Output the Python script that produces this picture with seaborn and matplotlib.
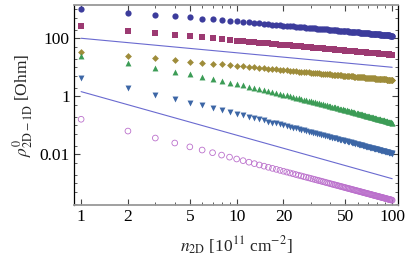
import numpy as np
import matplotlib
matplotlib.use("Agg")
import matplotlib.pyplot as plt
import seaborn as sns
from matplotlib.ticker import FixedLocator, NullFormatter

# density n_2D in units of 1e11 cm^-2
n2d = np.arange(1, 101)

# rho values (Ohm), one list per marker series
rho_circle = [
    1020, 771, 649, 573, 520, 479, 447, 421, 399, 380,
    364, 350, 337, 327, 316, 307, 298, 290, 282, 275,
    269, 263, 257, 252, 247, 242, 238, 233, 230, 225,
    222, 218, 215, 212, 209, 206, 204, 201, 198, 196,
    194, 191, 189, 187, 185, 183, 181, 179, 177, 175,
    173, 172, 170, 169, 167, 166, 164, 163, 161, 160,
    159, 157, 156, 155, 153, 152, 151, 150, 149, 147,
    146, 145, 144, 143, 143, 142, 141, 140, 139, 138,
    137, 136, 135, 134, 134, 133, 132, 131, 130, 130,
    129, 128, 127, 127, 126, 125, 124, 124, 123, 123]

rho_square = [
    257, 183, 150, 130, 117, 107, 99.0, 92.8, 87.6, 83.2,
    79.4, 76.1, 73.1, 70.6, 68.2, 66.1, 64.1, 62.4, 60.7, 59.2,
    57.8, 56.5, 55.3, 54.2, 53.1, 52.1, 51.1, 50.2, 49.4, 48.5,
    47.8, 47.0, 46.3, 45.7, 45.0, 44.4, 43.8, 43.2, 42.7, 42.2,
    41.7, 41.2, 40.7, 40.3, 39.8, 39.4, 39.0, 38.6, 38.2, 37.8,
    37.4, 37.1, 36.7, 36.4, 36.1, 35.8, 35.4, 35.2, 34.8, 34.6,
    34.3, 34.0, 33.7, 33.5, 33.2, 33.0, 32.7, 32.5, 32.3, 32.0,
    31.8, 31.6, 31.4, 31.2, 31.0, 30.8, 30.6, 30.4, 30.2, 30.0,
    29.9, 29.7, 29.5, 29.3, 29.2, 29.0, 28.8, 28.7, 28.5, 28.4,
    28.2, 28.0, 27.9, 27.8, 27.6, 27.5, 27.3, 27.2, 27.0, 26.9]

rho_diamond = [
    34.7, 24.7, 20.2, 17.5, 15.8, 14.4, 13.4, 12.5, 11.8, 11.2,
    10.7, 10.3, 9.86, 9.52, 9.20, 8.92, 8.65, 8.42, 8.19, 7.99,
    7.80, 7.62, 7.46, 7.31, 7.16, 7.03, 6.89, 6.77, 6.66, 6.54,
    6.45, 6.34, 6.25, 6.16, 6.07, 5.99, 5.91, 5.83, 5.76, 5.69,
    5.63, 5.56, 5.49, 5.44, 5.37, 5.32, 5.26, 5.21, 5.15, 5.10,
    5.05, 5.00, 4.95, 4.91, 4.87, 4.83, 4.78, 4.75, 4.69, 4.67,
    4.63, 4.59, 4.55, 4.52, 4.48, 4.45, 4.41, 4.38, 4.36, 4.32,
    4.29, 4.26, 4.24, 4.21, 4.18, 4.15, 4.13, 4.10, 4.07, 4.05,
    4.03, 4.01, 3.98, 3.95, 3.94, 3.91, 3.89, 3.87, 3.84, 3.83,
    3.80, 3.78, 3.76, 3.75, 3.72, 3.71, 3.68, 3.67, 3.64, 3.63]

rho_triangle = [
    25.1, 13.9, 9.47, 7.11, 5.65, 4.65, 3.93, 3.39, 2.97, 2.63,
    2.36, 2.13, 1.93, 1.77, 1.63, 1.50, 1.40, 1.30, 1.21, 1.14,
    1.07, 1.01, 0.953, 0.903, 0.856, 0.814, 0.775, 0.739, 0.707, 0.675,
    0.647, 0.620, 0.593, 0.572, 0.549, 0.529, 0.510, 0.491, 0.474, 0.458,
    0.443, 0.429, 0.416, 0.403, 0.390, 0.378, 0.367, 0.357, 0.346, 0.337,
    0.327, 0.319, 0.311, 0.302, 0.295, 0.287, 0.280, 0.273, 0.266, 0.260,
    0.254, 0.248, 0.243, 0.237, 0.232, 0.227, 0.222, 0.217, 0.213, 0.209,
    0.204, 0.200, 0.196, 0.192, 0.189, 0.185, 0.182, 0.178, 0.174, 0.171,
    0.169, 0.165, 0.162, 0.160, 0.157, 0.154, 0.151, 0.149, 0.147, 0.144,
    0.142, 0.139, 0.137, 0.135, 0.133, 0.131, 0.129, 0.127, 0.125, 0.123]

rho_down = [
    4.27, 1.88, 1.15, 0.806, 0.610, 0.484, 0.398, 0.335, 0.288, 0.251,
    0.222, 0.198, 0.178, 0.162, 0.148, 0.135, 0.125, 0.116, 0.108, 0.101,
    0.0942, 0.0886, 0.0832, 0.0787, 0.0744, 0.0705, 0.0671, 0.0638, 0.0609, 0.0581,
    0.0556, 0.0532, 0.0509, 0.0490, 0.0470, 0.0452, 0.0436, 0.0419, 0.0405, 0.0391,
    0.0377, 0.0365, 0.0354, 0.0343, 0.0332, 0.0322, 0.0313, 0.0303, 0.0295, 0.0287,
    0.0278, 0.0271, 0.0264, 0.0258, 0.0251, 0.0245, 0.0238, 0.0233, 0.0227, 0.0222,
    0.0217, 0.0212, 0.0207, 0.0203, 0.0198, 0.0194, 0.0190, 0.0186, 0.0182, 0.0178,
    0.0175, 0.0172, 0.0168, 0.0165, 0.0162, 0.0159, 0.0156, 0.0153, 0.0150, 0.0148,
    0.0145, 0.0142, 0.0140, 0.0138, 0.0135, 0.0133, 0.0131, 0.0129, 0.0127, 0.0125,
    0.0123, 0.0121, 0.0119, 0.0117, 0.0115, 0.0114, 0.0112, 0.0110, 0.0109, 0.0107]

rho_open = [
    0.162, 0.0635, 0.0365, 0.0246, 0.0181, 0.0141, 0.0114, 0.00944, 0.00802, 0.00692,
    0.00607, 0.00537, 0.00479, 0.00432, 0.00392, 0.00358, 0.00329, 0.00304, 0.00281, 0.00262,
    0.00245, 0.00229, 0.00215, 0.00202, 0.00191, 0.00181, 0.00171, 0.00163, 0.00155, 0.00148,
    0.00141, 0.00135, 0.00129, 0.00124, 0.00119, 0.00114, 0.00110, 0.00105, 0.00102, 0.000980,
    0.000945, 0.000915, 0.000885, 0.000856, 0.000829, 0.000802, 0.000779, 0.000756, 0.000734, 0.000712,
    0.000692, 0.000674, 0.000656, 0.000639, 0.000622, 0.000606, 0.000590, 0.000577, 0.000562, 0.000549,
    0.000536, 0.000524, 0.000512, 0.000500, 0.000489, 0.000478, 0.000468, 0.000458, 0.000449, 0.000440,
    0.000431, 0.000423, 0.000414, 0.000406, 0.000398, 0.000390, 0.000384, 0.000376, 0.000369, 0.000363,
    0.000357, 0.000350, 0.000344, 0.000339, 0.000333, 0.000328, 0.000321, 0.000317, 0.000312, 0.000306,
    0.000301, 0.000296, 0.000292, 0.000288, 0.000283, 0.000279, 0.000275, 0.000271, 0.000267, 0.000263]

# two straight guide lines (end points)
guide_x = [1, 100]
guide_half = [100, 10]
guide_threehalf = [1.45, 0.00145]

sns.set_style("ticks")
plt.rcParams["font.family"] = ["Liberation Serif", "DejaVu Serif"]
plt.rcParams["mathtext.fontset"] = "stix"
plt.rcParams["font.size"] = 12.5

fig = plt.figure(figsize=(4.07, 2.61), dpi=100)
ax = fig.add_axes([74 / 407, 56 / 261, 324 / 407, 200 / 261])
ax.set_xscale("log")
ax.set_yscale("log")

# guide lines
line_col = "#6a6ad0"
sns.lineplot(x=guide_x, y=guide_half, color=line_col, lw=0.8, ax=ax)
sns.lineplot(x=guide_x, y=guide_threehalf, color=line_col, lw=0.8, ax=ax)

# marker series
series = [
    (rho_circle, "o", "#3c3c9c", 20),
    (rho_square, "s", "#9c3a72", 16),
    (rho_diamond, "D", "#9e8c3a", 12),
    (rho_triangle, "^", "#3c9c56", 18),
    (rho_down, "v", "#3c66a6", 18),
]
for vals, mk, col, size in series:
    sns.scatterplot(x=n2d, y=vals, marker=mk, color=col, s=size,
                    linewidth=0, ax=ax, zorder=3)

# open circles
ax.scatter(n2d, rho_open, marker="o", s=17, facecolors="none",
           edgecolors="#bb70cc", linewidths=0.6, zorder=3)

ax.set_xlim(0.90, 109)
ax.set_ylim(1.8e-4, 1400)

# ticks
ax.xaxis.set_major_locator(FixedLocator([1, 2, 5, 10, 20, 50, 100]))
ax.set_xticklabels(["1", "2", "5", "10", "20", "50", "100"])
ax.xaxis.set_minor_locator(FixedLocator([3, 4, 6, 7, 8, 9, 30, 40, 60, 70, 80, 90]))
ax.xaxis.set_minor_formatter(NullFormatter())

ax.yaxis.set_major_locator(FixedLocator([1e-2, 1, 1e2]))
ax.set_yticklabels(["0.01", "1", "100"])
ymin = []
for k in range(-4, 4):
    for s in [1, 2, 5]:
        v = s * 10.0 ** k
        if not (s == 1 and k % 2 == 0):
            ymin.append(v)
ax.yaxis.set_minor_locator(FixedLocator(ymin))
ax.yaxis.set_minor_formatter(NullFormatter())

ax.tick_params(which="both", direction="in", top=True, right=True,
               colors="#444444", labelcolor="black", pad=3)
ax.tick_params(which="major", length=4, width=0.8)
ax.tick_params(which="minor", length=2, width=0.6)

for side in ["top", "bottom"]:
    ax.spines[side].set_color("#999999")
    ax.spines[side].set_linewidth(1.3)
for side in ["left", "right"]:
    ax.spines[side].set_color("black")
    ax.spines[side].set_linewidth(0.9)

ax.set_xlabel(r"$n_{\mathrm{2D}}$ [10$^{11}$ cm$^{-2}$]", labelpad=7)
ax.set_ylabel(r"$\rho^{0}_{\mathrm{2D-1D}}$ [Ohm]", labelpad=3)

fig.savefig("out.png", dpi=100)
